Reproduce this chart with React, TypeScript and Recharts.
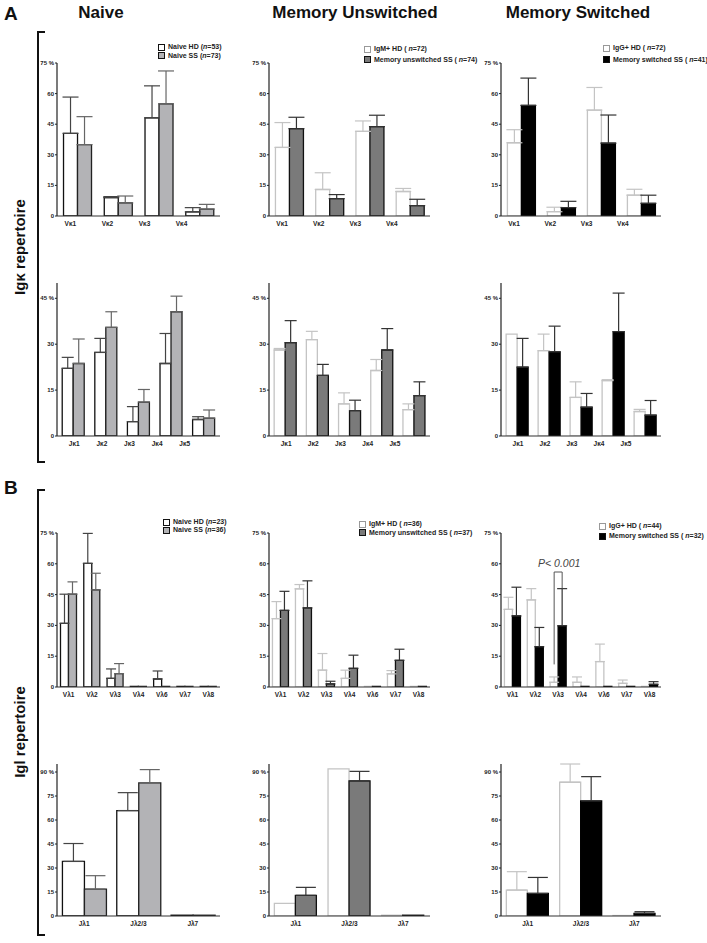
import React from "react";
import { BarChart, Bar, XAxis, YAxis, ErrorBar } from "recharts";

// categories
const vkCats = ["Vκ1", "Vκ2", "Vκ3", "Vκ4"];
const jkCats = ["Jκ1", "Jκ2", "Jκ3", "Jκ4", "Jκ5"];
const vlCats = ["Vλ1", "Vλ2", "Vλ3", "Vλ4", "Vλ6", "Vλ7", "Vλ8"];
const jlCats = ["Jλ1", "Jλ2/3", "Jλ7"];

const ticks75 = [0, 15, 30, 45, 60, 75];
const ticks45 = [0, 15, 30, 45];
const ticks90 = [0, 15, 30, 45, 60, 75, 90];

// Igk V genes (% mean and SD)
const vkNaiveHD = [40.5, 9.0, 48.1, 2.0];
const vkNaiveHDsd = [17.8, 0.5, 15.7, 2.1];
const vkNaiveSS = [35.0, 6.4, 55.0, 3.4];
const vkNaiveSSsd = [13.7, 3.4, 16.1, 2.3];

const vkUnswHD = [33.6, 13.0, 41.5, 12.0];
const vkUnswHDsd = [12.2, 8.2, 5.1, 1.5];
const vkUnswSS = [42.8, 8.5, 43.8, 5.1];
const vkUnswSSsd = [5.6, 2.0, 5.6, 3.1];

const vkSwHD = [35.9, 2.1, 51.9, 10.2];
const vkSwHDsd = [6.4, 2.2, 11.1, 2.9];
const vkSwSS = [54.2, 4.1, 35.7, 6.2];
const vkSwSSsd = [13.4, 3.1, 13.8, 4.0];

// Igk J genes
const jkNaiveHD = [22.1, 27.3, 4.7, 23.7, 5.4];
const jkNaiveHDsd = [3.6, 4.6, 4.9, 9.8, 0.9];
const jkNaiveSS = [23.7, 35.5, 11.1, 40.6, 5.8];
const jkNaiveSSsd = [8.0, 5.1, 4.1, 5.1, 2.7];

const jkUnswHD = [28.1, 31.5, 10.5, 21.4, 8.6];
const jkUnswHDsd = [0.5, 2.7, 3.6, 3.6, 1.9];
const jkUnswSS = [30.5, 19.8, 8.3, 28.1, 13.2];
const jkUnswSSsd = [7.2, 3.6, 3.4, 7.0, 4.5];

const jkSwHD = [33.3, 27.9, 12.6, 18.1, 8.0];
const jkSwHDsd = [0, 5.4, 5.1, 0.3, 0.7];
const jkSwSS = [22.5, 27.5, 9.4, 34.1, 6.8];
const jkSwSSsd = [9.4, 8.4, 4.5, 12.6, 4.8];

// Igl V genes
const vlNaiveHD = [31.0, 60.2, 4.2, 0.3, 3.9, 0.3, 0.3];
const vlNaiveHDsd = [14.2, 14.6, 4.6, 0, 3.9, 0, 0];
const vlNaiveSS = [45.2, 47.3, 6.5, 0.3, 0.3, 0.3, 0.3];
const vlNaiveSSsd = [6.0, 8.1, 4.9, 0, 0, 0, 0];

const vlUnswHD = [33.3, 47.8, 8.2, 4.2, 0.3, 6.4, 0.3];
const vlUnswHDsd = [8.3, 2.1, 8.1, 4.0, 0, 1.6, 0];
const vlUnswSS = [37.3, 38.5, 1.5, 9.1, 0.3, 13.0, 0.3];
const vlUnswSSsd = [9.3, 13.2, 1.3, 6.4, 0, 5.4, 0];

const vlSwHD = [37.8, 42.4, 2.3, 2.3, 12.4, 1.8, 0.3];
const vlSwHDsd = [5.9, 5.5, 2.6, 2.6, 8.5, 1.6, 0];
const vlSwSS = [34.6, 19.6, 29.8, 0.3, 0.3, 0.3, 1.3];
const vlSwSSsd = [14.0, 9.4, 18.1, 0, 0, 0, 1.3];

// Igl J genes
const jlNaiveHD = [34.1, 65.9, 0.5];
const jlNaiveHDsd = [11.2, 11.2, 0];
const jlNaiveSS = [16.8, 83.2, 0.5];
const jlNaiveSSsd = [8.4, 8.3, 0];

const jlUnswHD = [7.9, 91.9, 0.5];
const jlUnswHDsd = [0, 0, 0];
const jlUnswSS = [12.9, 84.4, 0.5];
const jlUnswSSsd = [5.0, 6.0, 0];

const jlSwHD = [16.2, 83.6, 0.3];
const jlSwHDsd = [11.5, 11.4, 0];
const jlSwSS = [14.1, 71.9, 1.7];
const jlSwSSsd = [10.0, 15.2, 1.0];

// legends
const colTitles = ["Naive", "Memory Unswitched", "Memory Switched"];
const hdNames = ["Naive HD", "IgM+ HD", "IgG+ HD"];
const ssNames = ["Naive SS", "Memory unswitched SS", "Memory switched SS"];
const kappaN = [[53, 73], [72, 74], [72, 41]];
const lambdaN = [[23, 36], [36, 37], [44, 32]];

// p-value bracket on switched Vl3
const pLabel = "P< 0.001";
const pCat = 2;
const pTop = 56;
const pLeftEnd = 11;
const pRightEnd = 48;

const FONT = "'Liberation Sans', Arial, sans-serif";

const colGeom = [
  { left: 57, right: 220 },
  { left: 269, right: 430 },
  { left: 501, right: 661 },
];

const rowGeom = [
  { top: 63, bottom: 216, max: 75, ticks: ticks75, gap: 0.16, cap: 8, base: -7, step: 3.7 },
  { top: 283, bottom: 436, max: 50, ticks: ticks45, gap: 0.16, cap: 6, base: 1, step: 5 },
  { top: 533, bottom: 687, max: 75, ticks: ticks75, gap: 0.15, cap: 5, base: 0, step: 0 },
  { top: 764, bottom: 916, max: 95, ticks: ticks90, gap: 0.1, cap: 10, base: 0, step: 0 },
];

const colStyle = [
  { hdStroke: "#111", hdErr: "#444", ssFill: "#b3b3b6", ssStroke: "#222", ssErr: "#666" },
  { hdStroke: "#c4c4c4", hdErr: "#c4c4c4", ssFill: "#7a7a7a", ssStroke: "#111", ssErr: "#333" },
  { hdStroke: "#c4c4c4", hdErr: "#c4c4c4", ssFill: "#000", ssStroke: "#000", ssErr: "#333" },
];

const panels = [
  { row: 0, col: 0, cats: vkCats, hd: vkNaiveHD, hdSd: vkNaiveHDsd, ss: vkNaiveSS, ssSd: vkNaiveSSsd },
  { row: 0, col: 1, cats: vkCats, hd: vkUnswHD, hdSd: vkUnswHDsd, ss: vkUnswSS, ssSd: vkUnswSSsd },
  { row: 0, col: 2, cats: vkCats, hd: vkSwHD, hdSd: vkSwHDsd, ss: vkSwSS, ssSd: vkSwSSsd },
  { row: 1, col: 0, cats: jkCats, hd: jkNaiveHD, hdSd: jkNaiveHDsd, ss: jkNaiveSS, ssSd: jkNaiveSSsd },
  { row: 1, col: 1, cats: jkCats, hd: jkUnswHD, hdSd: jkUnswHDsd, ss: jkUnswSS, ssSd: jkUnswSSsd },
  { row: 1, col: 2, cats: jkCats, hd: jkSwHD, hdSd: jkSwHDsd, ss: jkSwSS, ssSd: jkSwSSsd },
  { row: 2, col: 0, cats: vlCats, hd: vlNaiveHD, hdSd: vlNaiveHDsd, ss: vlNaiveSS, ssSd: vlNaiveSSsd },
  { row: 2, col: 1, cats: vlCats, hd: vlUnswHD, hdSd: vlUnswHDsd, ss: vlUnswSS, ssSd: vlUnswSSsd },
  { row: 2, col: 2, cats: vlCats, hd: vlSwHD, hdSd: vlSwHDsd, ss: vlSwSS, ssSd: vlSwSSsd },
  { row: 3, col: 0, cats: jlCats, hd: jlNaiveHD, hdSd: jlNaiveHDsd, ss: jlNaiveSS, ssSd: jlNaiveSSsd },
  { row: 3, col: 1, cats: jlCats, hd: jlUnswHD, hdSd: jlUnswHDsd, ss: jlUnswSS, ssSd: jlUnswSSsd },
  { row: 3, col: 2, cats: jlCats, hd: jlSwHD, hdSd: jlSwHDsd, ss: jlSwSS, ssSd: jlSwSSsd },
];

const legendPos = [
  [{ x: 158, y: 44, dy: 8.5 }, { x: 364, y: 46, dy: 10.5 }, { x: 603, y: 45, dy: 11.5 }],
  [{ x: 163, y: 519, dy: 8 }, { x: 359, y: 521, dy: 8.5 }, { x: 599, y: 523, dy: 10 }],
];

const YW = 30;
const MT = 8;
const XH = 20;
const MR = 4;

const yOf = (row: number, v: number) => {
  const r = rowGeom[row];
  return r.bottom - (v / r.max) * (r.bottom - r.top);
};

const barCenter = (row: number, col: number, n: number, cat: number, bar: number) => {
  const g = colGeom[col];
  const band = (g.right - g.left) / n;
  const gap = band * rowGeom[row].gap;
  const w = (band - 2 * gap) / 2;
  return g.left + cat * band + gap + w * (bar + 0.5);
};

function Panel({ row, col, cats, hd, hdSd, ss, ssSd }: any) {
  const g = colGeom[col];
  const r = rowGeom[row];
  const st = colStyle[col];
  const data = cats.map((c: string, i: number) => ({
    cat: c,
    hd: hd[i],
    hdErr: hdSd[i],
    ss: ss[i],
    ssErr: ssSd[i],
  }));
  const plotW = g.right - g.left;
  const plotH = r.bottom - r.top;
  const topTick = r.ticks[r.ticks.length - 1];

  return (
    <div style={{ position: "absolute", left: g.left - YW, top: r.top - MT }}>
      <BarChart
        width={plotW + YW + MR}
        height={plotH + MT + XH}
        data={data}
        margin={{ top: MT, right: MR, left: 0, bottom: 0 }}
        barGap={0}
        barCategoryGap={`${r.gap * 100}%`}
      >
        <XAxis
          dataKey="cat"
          height={XH}
          interval={0}
          tickLine={false}
          tickSize={0}
          axisLine={{ stroke: "#333", strokeWidth: 1.2 }}
          tick={(p: any) => (
            <text
              x={p.x + r.base - r.step * p.index}
              y={p.y + 8}
              textAnchor="middle"
              fontSize={6.5}
              fontWeight={700}
              fill="#222"
              fontFamily={FONT}
            >
              {p.payload.value}
            </text>
          )}
        />
        <YAxis
          width={YW}
          domain={[0, r.max]}
          ticks={r.ticks}
          allowDataOverflow
          interval={0}
          tickSize={2}
          tickMargin={1}
          axisLine={{ stroke: "#222", strokeWidth: 1.2 }}
          tickLine={{ stroke: "#222" }}
          tick={(p: any) => (
            <text
              x={p.x}
              y={p.y + 2}
              textAnchor="end"
              fontSize={6}
              fontWeight={700}
              fill="#222"
              fontFamily={FONT}
            >
              {p.payload.value === topTick ? `${p.payload.value} %` : `${p.payload.value}`}
            </text>
          )}
        />
        <Bar dataKey="hd" fill="#fff" stroke={st.hdStroke} strokeWidth={1.3} isAnimationActive={false}>
          <ErrorBar
            dataKey={(d: any) => (d.hdErr > 0 ? [0, d.hdErr] : null)}
            width={r.cap}
            stroke={st.hdErr}
            strokeWidth={1.2}
            direction="y"
          />
        </Bar>
        <Bar dataKey="ss" fill={st.ssFill} stroke={st.ssStroke} strokeWidth={1.3} isAnimationActive={false}>
          <ErrorBar
            dataKey={(d: any) => (d.ssErr > 0 ? [0, d.ssErr] : null)}
            width={r.cap}
            stroke={st.ssErr}
            strokeWidth={1.2}
            direction="y"
          />
        </Bar>
      </BarChart>
    </div>
  );
}

function LegendBlock({ col, pos, n }: any) {
  const st = colStyle[col];
  const spaced = col > 0;
  const items = [
    { name: hdNames[col], n: n[0], fill: "#fff", stroke: col === 0 ? "#111" : "#999" },
    { name: ssNames[col], n: n[1], fill: st.ssFill, stroke: "#111" },
  ];
  return (
    <>
      {items.map((it, i) => (
        <div
          key={i}
          style={{
            position: "absolute",
            left: pos.x,
            top: pos.y + i * pos.dy - 1,
            display: "flex",
            alignItems: "center",
            whiteSpace: "nowrap",
            fontFamily: FONT,
            fontSize: 7,
            fontWeight: 700,
            color: "#222",
            lineHeight: "8px",
          }}
        >
          <span
            style={{
              display: "inline-block",
              width: 5,
              height: 5,
              background: it.fill,
              border: `1px solid ${it.stroke}`,
              marginRight: 3,
            }}
          />
          <span>
            {it.name} ({spaced ? " " : ""}
            <i>n</i>={it.n})
          </span>
        </div>
      ))}
    </>
  );
}

export default function App() {
  const pRow = 2;
  const pCol = 2;
  const pxL = barCenter(pRow, pCol, vlCats.length, pCat, 0);
  const pxR = barCenter(pRow, pCol, vlCats.length, pCat, 1);
  const pyTop = yOf(pRow, pTop);

  return (
    <div
      style={{
        position: "absolute",
        left: 0,
        top: 0,
        width: 707,
        height: 943,
        background: "#fff",
        overflow: "hidden",
      }}
    >
      {panels.map((p, i) => (
        <Panel key={i} {...p} />
      ))}
      {legendPos[0].map((pos, c) => (
        <LegendBlock key={`k${c}`} col={c} pos={pos} n={kappaN[c]} />
      ))}
      {legendPos[1].map((pos, c) => (
        <LegendBlock key={`l${c}`} col={c} pos={pos} n={lambdaN[c]} />
      ))}
      <svg
        width={707}
        height={943}
        style={{ position: "absolute", left: 0, top: 0, pointerEvents: "none" }}
        fontFamily={FONT}
      >
        <text x={4} y={20} fontSize={19} fontWeight={700} fill="#111">A</text>
        <text x={4} y={494} fontSize={19} fontWeight={700} fill="#111">B</text>
        {colTitles.map((t, i) => (
          <text
            key={t}
            x={[101, 355, 578][i]}
            y={18}
            textAnchor="middle"
            fontSize={17}
            fontWeight={700}
            fill="#111"
          >
            {t}
          </text>
        ))}
        <path d="M45,32 H38 V462 H45" fill="none" stroke="#111" strokeWidth={2} />
        <path d="M45,490 H38 V935 H45" fill="none" stroke="#111" strokeWidth={2} />
        <text
          transform="translate(25,247) rotate(-90)"
          textAnchor="middle"
          fontSize={15}
          fontWeight={700}
          fill="#111"
        >
          Igκ repertoire
        </text>
        <text
          transform="translate(25,732) rotate(-90)"
          textAnchor="middle"
          fontSize={15}
          fontWeight={700}
          fill="#111"
        >
          Igl repertoire
        </text>
        <text x={538} y={567} fontSize={10.5} fontStyle="italic" fill="#444">
          {pLabel}
        </text>
        <path
          d={`M${pxL},${yOf(pRow, pLeftEnd)} V${pyTop} H${pxR} V${yOf(pRow, pRightEnd)}`}
          fill="none"
          stroke="#555"
          strokeWidth={1}
        />
      </svg>
    </div>
  );
}
